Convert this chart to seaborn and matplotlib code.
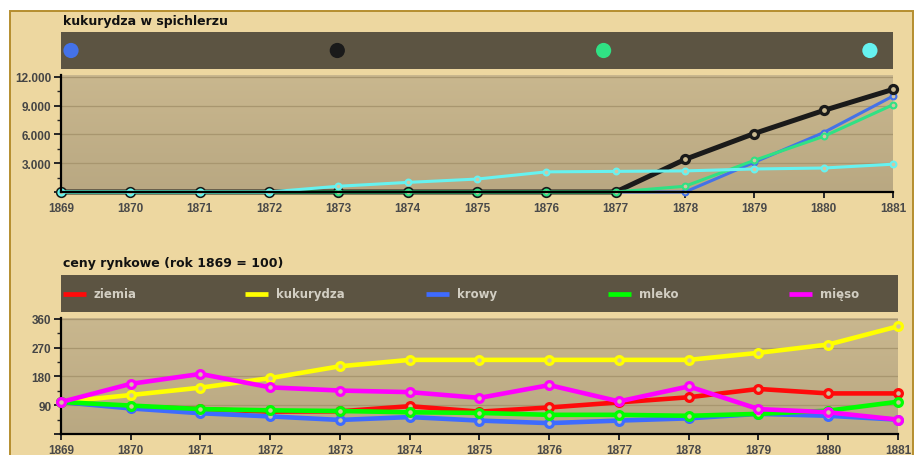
import numpy as np
import seaborn as sns
import matplotlib.pyplot as plt
from matplotlib.patches import Rectangle
from matplotlib.colors import LinearSegmentedColormap
from matplotlib.ticker import FuncFormatter, MultipleLocator

# --- data -------------------------------------------------------------
years = [1869, 1870, 1871, 1872, 1873, 1874, 1875, 1876, 1877, 1878, 1879, 1880, 1881]

# kukurydza w spichlerzu (4 players)
store_blue = [0, 0, 0, 0, 0, 0, 0, 0, 0, 0, 3100, 6200, 10000]
store_black = [0, 0, 0, 0, 0, 0, 0, 0, 0, 3400, 6100, 8500, 10700]
store_green = [0, 0, 0, 0, 0, 0, 0, 0, 0, 600, 3300, 5800, 9100]
store_cyan = [0, 0, 0, 0, 600, 1000, 1350, 2100, 2150, 2200, 2400, 2500, 2900]

# ceny rynkowe (rok 1869 = 100)
price_labels = ["ziemia", "kukurydza", "krowy", "mleko", "mięso"]
price_ziemia = [100, 86, 78, 70, 71, 87, 70, 83, 99, 115, 141, 127, 127]
price_kukurydza = [100, 122, 145, 175, 212, 232, 232, 232, 232, 232, 254, 280, 337]
price_krowy = [100, 80, 65, 55, 44, 53, 42, 34, 42, 49, 63, 57, 45]
price_mleko = [100, 89, 78, 74, 72, 68, 66, 60, 60, 57, 63, 73, 101]
price_mieso = [100, 157, 188, 146, 136, 131, 113, 153, 102, 149, 78, 68, 45]

# --- style ------------------------------------------------------------
sns.set_style("ticks")
plt.rcParams["font.family"] = ["DejaVu Sans"]

W, H = 920, 456
FRAME = "#EDD7A0"
BAR = "#5C5442"
TICK_FONT = dict(family="Liberation Sans", weight="bold", size=8.5)


def px(x0, y0, x1, y1):
    """pixel box (top-left origin) -> figure fraction rect"""
    return [x0 / W, 1 - y1 / H, (x1 - x0) / W, (y1 - y0) / H]


def style_axis(ax, top, major, fmt):
    cmap = LinearSegmentedColormap.from_list("bg", ["#C9B78E", "#B9A882"])
    ax.imshow(np.linspace(0, 1, 64).reshape(-1, 1), cmap=cmap, aspect="auto",
              extent=[years[0], years[-1], 0, top], zorder=0)
    ax.set_xlim(years[0], years[-1])
    ax.set_ylim(0, top)
    ax.set_facecolor("none")
    for s in ["top", "right"]:
        ax.spines[s].set_visible(False)
    for s in ["left", "bottom"]:
        ax.spines[s].set_linewidth(1.6)
        ax.spines[s].set_color("black")
        ax.spines[s].set_zorder(5)
    ax.set_xticks(years)
    ax.set_xticklabels([str(y) for y in years], color="#4a4a4a", **TICK_FONT)
    ax.yaxis.set_major_locator(MultipleLocator(major))
    ax.yaxis.set_minor_locator(MultipleLocator(major / 2))
    ax.yaxis.set_major_formatter(FuncFormatter(fmt))
    ax.tick_params(axis="y", which="major", length=5, width=1.4, pad=2,
                   labelsize=8.5, labelcolor="#454545")
    ax.tick_params(axis="y", which="minor", length=3, width=1.0)
    ax.tick_params(axis="x", length=4, width=1.4, pad=3.5)
    for lab in ax.get_yticklabels():
        lab.set_family("Liberation Sans")
        lab.set_weight("bold")
    for v in np.arange(major, top - 1, major):
        ax.axhline(v, color="#A8966F", lw=0.9, zorder=0.5)
    ax.set_xlabel("")
    ax.set_ylabel("")


def thousands(v, _):
    if v == 0:
        return ""
    return f"{int(v):,}".replace(",", ".")


def plain(v, _):
    return "" if v == 0 else f"{int(v)}"


fig = plt.figure(figsize=(W / 100, H / 100), dpi=100)
fig.patch.set_facecolor("white")
fig.patches.append(Rectangle((10 / W, -0.05), 903 / W, 1 - 12 / H + 0.05,
                             transform=fig.transFigure, facecolor=FRAME,
                             edgecolor="#B58E2F", lw=1.4, zorder=-10))

# --- top chart --------------------------------------------------------
fig.text(63 / W, 1 - 21 / H, "kukurydza w spichlerzu", fontsize=9,
         weight="bold", color="#111111", va="center")

leg1 = fig.add_axes(px(61, 33, 893, 70))
leg1.set_facecolor(BAR)
leg1.set_xticks([]); leg1.set_yticks([])
for s in leg1.spines.values():
    s.set_visible(False)
leg1.set_xlim(0, 832); leg1.set_ylim(0, 1)
top_colors = ["#4472E8", "#1A1A1A", "#30E184", "#66F2F0"]
for i, c in enumerate(top_colors):
    leg1.scatter(10 + i * 266.3, 0.5, s=120, color=c, edgecolor="none")

ax1 = fig.add_axes(px(61, 76, 893, 193))
top_series = [
    (store_blue, "#4472E8", 2.2, 4.2, 1.5, "#D2C6A2", 2),
    (store_black, "#1A1A1A", 3.6, 5.8, 2.3, "#C9B990", 3),
    (store_green, "#30E184", 2.2, 4.2, 1.5, "#D2C6A2", 4),
    (store_cyan, "#66F2F0", 2.2, 4.2, 1.5, "#D2C6A2", 5),
]
for vals, c, lw, ms, mew, mfc, z in top_series:
    sns.lineplot(x=years, y=vals, ax=ax1, color=c, lw=lw, marker="o", ms=ms,
                 mec=c, mfc=mfc, mew=mew, clip_on=False, zorder=z, legend=False)
style_axis(ax1, 12200, 3000, thousands)

# --- bottom chart -----------------------------------------------------
fig.text(63 / W, 1 - 264 / H, "ceny rynkowe (rok 1869 = 100)", fontsize=9,
         weight="bold", color="#111111", va="center")

price_colors = ["#FF0A0A", "#FFFF00", "#3E6BFF", "#00FF00", "#FF00FF"]
leg2 = fig.add_axes(px(61, 276, 898, 313))
leg2.set_facecolor(BAR)
leg2.set_xticks([]); leg2.set_yticks([])
for s in leg2.spines.values():
    s.set_visible(False)
leg2.set_xlim(0, 837); leg2.set_ylim(0, 1)
for i, (lab, c) in enumerate(zip(price_labels, price_colors)):
    x0 = 2 + i * 181.6
    leg2.plot([x0, x0 + 23], [0.5, 0.5], color=c, lw=3.4, solid_capstyle="butt")
    leg2.text(x0 + 31, 0.5, lab, color="#D2CEC2", fontsize=8.5,
              weight="bold", va="center", ha="left")

ax2 = fig.add_axes(px(61, 318.7, 898, 435))
price_series = [price_ziemia, price_kukurydza, price_krowy, price_mleko, price_mieso]
for z, (vals, c) in enumerate(zip(price_series, price_colors)):
    sns.lineplot(x=years, y=vals, ax=ax2, color=c, lw=3.3, marker="o", ms=5.6,
                 mec=c, mfc="#CFC29C", mew=2.3, clip_on=False, zorder=2 + z,
                 legend=False)
style_axis(ax2, 364, 90, plain)

fig.savefig("out.png", dpi=100, facecolor=fig.get_facecolor())
